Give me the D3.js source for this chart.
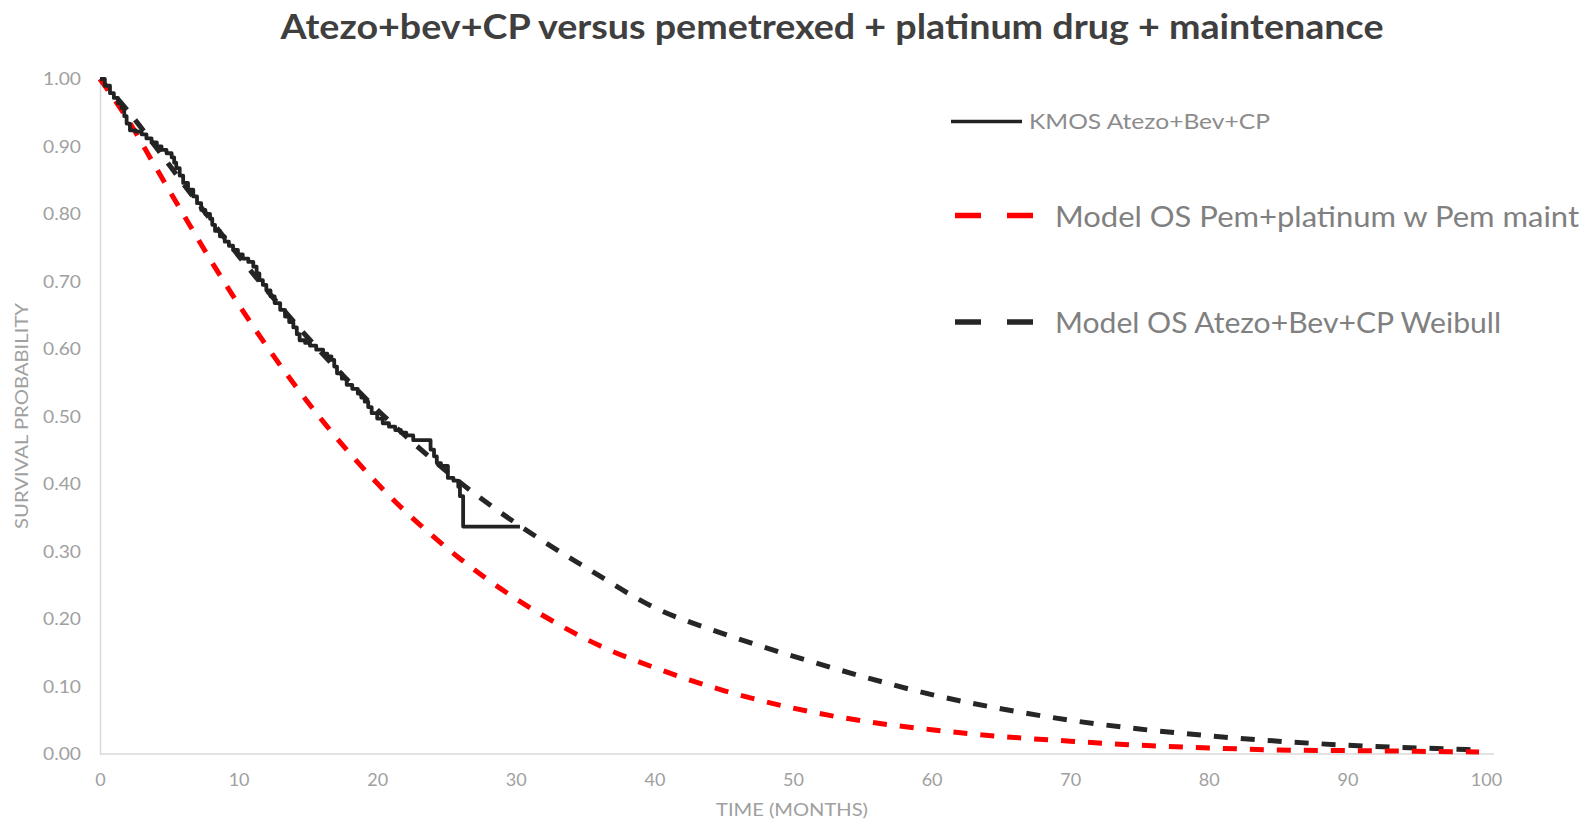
<!DOCTYPE html>
<html>
<head>
<meta charset="utf-8">
<script src="https://cdn.jsdelivr.net/npm/d3@7"></script>
<style>
  html, body { margin: 0; padding: 0; background: #fff; }
  svg { display: block; }
</style>
</head>
<body>
<svg id="chart" width="1587" height="820"></svg>
<script>
// ---------- data ----------
const titleText = "Atezo+bev+CP versus pemetrexed + platinum drug + maintenance";
const xTicks = [0, 10, 20, 30, 40, 50, 60, 70, 80, 90, 100];
const yTicks = [0, 0.1, 0.2, 0.3, 0.4, 0.5, 0.6, 0.7, 0.8, 0.9, 1.0];
const legendLabels = ["KMOS Atezo+Bev+CP", "Model OS Pem+platinum w Pem maint", "Model OS Atezo+Bev+CP Weibull"];

// Kaplan-Meier OS, Atezo+Bev+CP (step function)
const kmTime = [0, 0.35, 0.72, 1.0, 1.3, 1.56, 1.75, 1.92, 2.16, 2.6, 3.0, 3.35, 3.72, 4.1, 4.44, 4.8, 5.17, 5.35, 5.5, 5.75,
  6.0, 6.35, 6.73, 7.0, 7.3, 7.6, 7.94, 8.1, 8.3, 8.65, 9.0, 9.3, 9.6, 9.95, 10.3, 10.7, 11.06, 11.3, 11.5, 11.75,
  12.0, 12.3, 12.6, 13.0, 13.35, 13.65, 13.95, 14.2, 14.4, 14.8, 15.15, 15.6, 16.1, 16.4, 16.7, 16.9, 17.1, 17.45, 17.8, 18.2,
  18.6, 18.85, 19.1, 19.35, 19.6, 20.0, 20.4, 20.85, 21.3, 21.7, 22.1, 22.6, 23.85, 24.1, 24.3, 24.6, 25.1, 25.5, 25.85, 25.97,
  26.2, 30.3];
const kmSurv = [1.0, 0.99, 0.979, 0.972, 0.964, 0.957, 0.945, 0.934, 0.924, 0.922, 0.918, 0.912, 0.906, 0.900, 0.895, 0.890, 0.884, 0.876, 0.868, 0.857,
  0.846, 0.836, 0.826, 0.816, 0.806, 0.800, 0.793, 0.784, 0.775, 0.767, 0.759, 0.753, 0.747, 0.740, 0.734, 0.729, 0.722, 0.712, 0.702, 0.695,
  0.687, 0.678, 0.668, 0.658, 0.648, 0.640, 0.632, 0.622, 0.613, 0.609, 0.605, 0.599, 0.593, 0.589, 0.584, 0.574, 0.564, 0.556, 0.547, 0.541,
  0.534, 0.528, 0.522, 0.514, 0.505, 0.497, 0.490, 0.485, 0.480, 0.476, 0.472, 0.465, 0.451, 0.441, 0.431, 0.427, 0.409, 0.405, 0.396, 0.382,
  0.337, 0.337];

// Model OS Pem+platinum w Pem maint
const pemTime = [0, 2, 4, 6, 8, 10, 12, 14, 16, 18, 20, 22, 24, 26, 28, 30, 33, 36, 40, 45, 50, 55, 60, 65, 70, 75, 80, 85, 90, 95, 99.5];
const pemSurv = [1.0, 0.94, 0.87, 0.80, 0.731, 0.666, 0.605, 0.548, 0.495, 0.446, 0.401, 0.360, 0.323, 0.289, 0.258, 0.230, 0.193, 0.161, 0.128, 0.094, 0.068, 0.049, 0.036, 0.026, 0.019, 0.013, 0.009, 0.006, 0.005, 0.004, 0.003];

// Model OS Atezo+Bev+CP Weibull
const weibTime = [0, 2, 4, 6, 8, 10, 12, 14, 16, 18, 20, 22, 24, 26, 28, 30, 32, 35, 40, 45, 50, 55, 60, 65, 70, 75, 80, 85, 90, 95, 99.5];
const weibSurv = [1.0, 0.953, 0.900, 0.845, 0.791, 0.738, 0.688, 0.640, 0.594, 0.551, 0.510, 0.472, 0.436, 0.402, 0.371, 0.342, 0.315, 0.277, 0.217, 0.178, 0.145, 0.115, 0.088, 0.067, 0.050, 0.037, 0.027, 0.019, 0.013, 0.009, 0.006];

// ---------- chart ----------
const svg = d3.select("#chart");
const x = d3.scaleLinear().domain([0, 100]).range([100, 1486]);
const y = d3.scaleLinear().domain([0, 1]).range([754, 79]);

const font = "Lato, 'Open Sans', sans-serif";
const gray = "#a0a0a0";

// title
svg.append("text")
  .attr("x", 832).attr("y", 39)
  .attr("text-anchor", "middle")
  .attr("font-family", font).attr("font-weight", "bold")
  .attr("font-size", 34).attr("fill", "#3f3f3f")
  .attr("textLength", 1103).attr("lengthAdjust", "spacingAndGlyphs")
  .text(titleText);

// axes
const xAxis = d3.axisBottom(x).tickValues(xTicks).tickSize(0).tickPadding(19).tickFormat(d3.format("d"));
const yAxis = d3.axisLeft(y).tickValues(yTicks).tickSize(0).tickPadding(19).tickFormat(d3.format(".2f"));

const gx = svg.append("g").attr("transform", "translate(0,754)").call(xAxis);
gx.select(".domain").attr("stroke", "#d9d9d9").attr("stroke-width", 1.5).attr("d", "M100,0H1494");
gx.selectAll("text").attr("font-family", font).attr("font-size", 18).attr("fill", gray);

const gy = svg.append("g").attr("transform", "translate(100,0)").call(yAxis);
gy.select(".domain").attr("stroke", "#d9d9d9").attr("stroke-width", 1.5);
gy.selectAll("text").attr("font-family", font).attr("font-size", 18).attr("fill", gray)
  .attr("textLength", 38).attr("lengthAdjust", "spacingAndGlyphs");

// axis titles
svg.append("text")
  .attr("x", 792).attr("y", 816)
  .attr("text-anchor", "middle")
  .attr("font-family", font).attr("font-size", 17).attr("fill", gray)
  .attr("textLength", 152).attr("lengthAdjust", "spacingAndGlyphs")
  .text("TIME (MONTHS)");
svg.append("text")
  .attr("transform", "translate(28,416) rotate(-90)")
  .attr("text-anchor", "middle")
  .attr("font-family", font).attr("font-size", 17).attr("fill", gray)
  .attr("textLength", 226).attr("lengthAdjust", "spacingAndGlyphs")
  .text("SURVIVAL PROBABILITY");

// lines
const smooth = d3.line().x(d => x(d[0])).y(d => y(d[1])).curve(d3.curveMonotoneX);
const step = d3.line().x(d => x(d[0])).y(d => y(d[1])).curve(d3.curveStepAfter);

const pemData = pemTime.map((t, i) => [t, pemSurv[i]]);
const weibData = weibTime.map((t, i) => [t, weibSurv[i]]);
const kmData = kmTime.map((t, i) => [t, kmSurv[i]]);

svg.append("path").datum(weibData)
  .attr("d", smooth).attr("fill", "none")
  .attr("stroke", "#262626").attr("stroke-width", 5)
  .attr("stroke-dasharray", "14,13");

svg.append("path").datum(pemData)
  .attr("d", smooth).attr("fill", "none")
  .attr("stroke", "#ff0000").attr("stroke-width", 5)
  .attr("stroke-dasharray", "14,13");

svg.append("path").datum(kmData)
  .attr("d", step).attr("fill", "none")
  .attr("stroke", "#222").attr("stroke-width", 3.8)
  .attr("stroke-linejoin", "round");

// legend
const lg = svg.append("g");
lg.append("line").attr("x1", 951).attr("x2", 1022).attr("y1", 121.5).attr("y2", 121.5)
  .attr("stroke", "#222").attr("stroke-width", 3.5);
lg.append("text").attr("x", 1029).attr("y", 128.5)
  .attr("font-family", font).attr("font-size", 21).attr("fill", "#8c8c8c")
  .attr("textLength", 241).attr("lengthAdjust", "spacingAndGlyphs")
  .text(legendLabels[0]);

lg.append("line").attr("x1", 955).attr("x2", 1033).attr("y1", 215.5).attr("y2", 215.5)
  .attr("stroke", "#ff0000").attr("stroke-width", 5.5).attr("stroke-dasharray", "26,26");
lg.append("text").attr("x", 1055).attr("y", 227)
  .attr("font-family", font).attr("font-size", 29).attr("fill", "#808080")
  .attr("textLength", 524).attr("lengthAdjust", "spacingAndGlyphs")
  .text(legendLabels[1]);

lg.append("line").attr("x1", 955).attr("x2", 1033).attr("y1", 322).attr("y2", 322)
  .attr("stroke", "#262626").attr("stroke-width", 5.5).attr("stroke-dasharray", "26,26");
lg.append("text").attr("x", 1055).attr("y", 333)
  .attr("font-family", font).attr("font-size", 29).attr("fill", "#808080")
  .attr("textLength", 446).attr("lengthAdjust", "spacingAndGlyphs")
  .text(legendLabels[2]);
</script>
</body>
</html>
